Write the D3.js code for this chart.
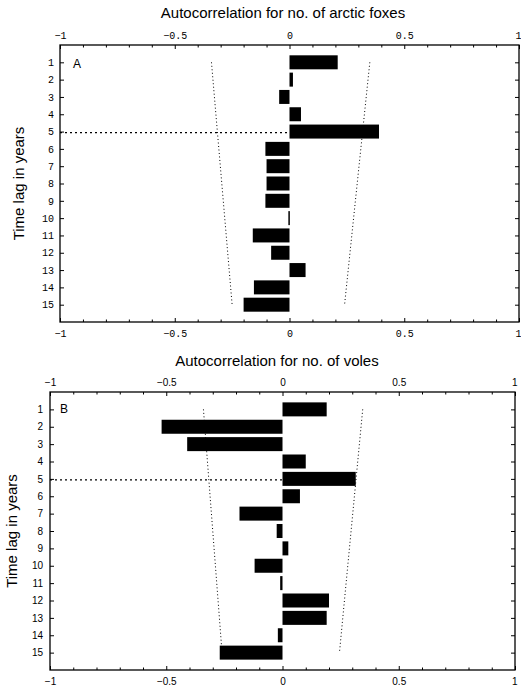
<!DOCTYPE html>
<html>
<head>
<meta charset="utf-8">
<title>Autocorrelation</title>
<script src="https://d3js.org/d3.v7.min.js"></script>
<style>
  body { margin: 0; background: #fff; }
  svg { display: block; }
</style>
</head>
<body>
<div id="chart"></div>
<script>
// time lags (years)
const lags = [1, 2, 3, 4, 5, 6, 7, 8, 9, 10, 11, 12, 13, 14, 15];

// panel A: arctic foxes
const foxAcf = [0.21, 0.015, -0.045, 0.05, 0.39, -0.105, -0.10, -0.10, -0.105, -0.005, -0.16, -0.08, 0.07, -0.155, -0.20];
// confidence limits at lag 1 and lag 15 [lower, upper]
const foxCiStart = [-0.34, 0.35];
const foxCiEnd = [-0.25, 0.24];

// panel B: voles
const voleAcf = [0.19, -0.52, -0.41, 0.10, 0.315, 0.075, -0.185, -0.025, 0.025, -0.12, -0.01, 0.20, 0.19, -0.02, -0.27];
const voleCiStart = [-0.34, 0.345];
const voleCiEnd = [-0.26, 0.245];

const xTicks = [-1, -0.5, 0, 0.5, 1];
const xMinor = [-0.9, -0.8, -0.7, -0.6, -0.4, -0.3, -0.2, -0.1, 0.1, 0.2, 0.3, 0.4, 0.6, 0.7, 0.8, 0.9];

const W = 521, H = 690;
const svg = d3.select("#chart").append("svg")
    .attr("width", W)
    .attr("height", H);

function drawPanel(p) {
    let x = d3.scaleLinear().domain([-1, 1]).range([p.left, p.right]);
    let y = d3.scaleLinear().domain([0, 16]).range([p.top, p.bottom]);
    let g = svg.append("g");

    // title
    g.append("text")
        .attr("x", p.titleX)
        .attr("y", p.titleY)
        .attr("text-anchor", "middle")
        .attr("font-family", "Liberation Sans, Arial, sans-serif")
        .attr("font-size", "15px")
        .text(p.title);

    // axes
    let fmt = d => d3.format("")(d);
    let top = g.append("g").attr("transform", "translate(0," + p.top + ")")
        .call(d3.axisTop(x).tickValues(xTicks).tickSize(-4).tickPadding(6).tickFormat(fmt));
    let bottom = g.append("g").attr("transform", "translate(0," + p.bottom + ")")
        .call(d3.axisBottom(x).tickValues(xTicks).tickSize(-4).tickPadding(8).tickFormat(fmt));
    g.append("g").attr("transform", "translate(0," + p.top + ")")
        .call(d3.axisTop(x).tickValues(xMinor).tickSize(-2.5).tickFormat(""));
    g.append("g").attr("transform", "translate(0," + p.bottom + ")")
        .call(d3.axisBottom(x).tickValues(xMinor).tickSize(-2.5).tickFormat(""));
    let left = g.append("g").attr("transform", "translate(" + p.left + ",0)")
        .call(d3.axisLeft(y).tickValues(lags).tickSize(-4).tickPadding(p.yPad));
    g.append("g").attr("transform", "translate(" + p.right + ",0)")
        .call(d3.axisRight(y).tickValues(lags).tickSize(-4).tickFormat(""));

    g.selectAll(".domain").remove();
    g.selectAll(".tick line").attr("stroke", "#000").attr("stroke-width", 1);
    [top, bottom, left].forEach(a => a.selectAll("text")
        .attr("font-family", p.tickFont)
        .attr("font-size", p.tickSize)
        .attr("fill", "#000"));
    // keep the "1" at the right edge inside the page
    [top, bottom].forEach(a => a.selectAll(".tick")
        .filter(d => d === 1)
        .select("text")
        .attr("text-anchor", "end")
        .attr("dx", 2));

    // frame
    g.append("rect")
        .attr("x", p.left).attr("y", p.top)
        .attr("width", p.right - p.left).attr("height", p.bottom - p.top)
        .attr("fill", "none").attr("stroke", "#000").attr("stroke-width", 1.3);

    // y label
    g.append("text")
        .attr("transform", "translate(" + p.ylabX + "," + ((p.top + p.bottom) / 2) + ") rotate(-90)")
        .attr("text-anchor", "middle")
        .attr("font-family", "Liberation Sans, Arial, sans-serif")
        .attr("font-size", "15px")
        .text("Time lag in years");

    // panel letter
    g.append("text")
        .attr("x", p.letterX).attr("y", p.letterY)
        .attr("font-family", "Liberation Sans, Arial, sans-serif")
        .attr("font-size", "12px")
        .text(p.letter);

    // confidence limits
    [0, 1].forEach(i => {
        g.append("line")
            .attr("x1", x(p.ciStart[i])).attr("y1", y(lags[0]))
            .attr("x2", x(p.ciEnd[i])).attr("y2", y(lags[lags.length - 1]))
            .attr("stroke", "#000").attr("stroke-width", 1)
            .attr("stroke-dasharray", "1,2.5");
    });

    // reference line at lag 5
    g.append("line")
        .attr("x1", p.left).attr("x2", x(0))
        .attr("y1", y(5) + 1).attr("y2", y(5) + 1)
        .attr("stroke", "#000").attr("stroke-width", 1.2)
        .attr("stroke-dasharray", "2,3");

    // bars
    g.selectAll("rect.bar")
        .data(p.values)
        .enter()
        .append("rect")
        .attr("class", "bar")
        .attr("x", d => x(Math.min(0, d)))
        .attr("width", d => Math.max(1.5, Math.abs(x(d) - x(0))))
        .attr("y", (d, i) => y(lags[i]) - 7)
        .attr("height", 14)
        .attr("fill", "#000");
}

drawPanel({
    title: "Autocorrelation for no. of arctic foxes", titleX: 283, titleY: 18,
    left: 60, right: 519, top: 45, bottom: 322,
    tickFont: "Liberation Mono, monospace", tickSize: "10px", yPad: 6,
    ylabX: 24, letter: "A", letterX: 73, letterY: 68,
    values: foxAcf, ciStart: foxCiStart, ciEnd: foxCiEnd
});

drawPanel({
    title: "Autocorrelation for no. of voles", titleX: 277, titleY: 366,
    left: 50, right: 515, top: 392, bottom: 670,
    tickFont: "Liberation Sans, Arial, sans-serif", tickSize: "10px", yPad: 7,
    ylabX: 17, letter: "B", letterX: 60, letterY: 413,
    values: voleAcf, ciStart: voleCiStart, ciEnd: voleCiEnd
});
</script>
</body>
</html>
